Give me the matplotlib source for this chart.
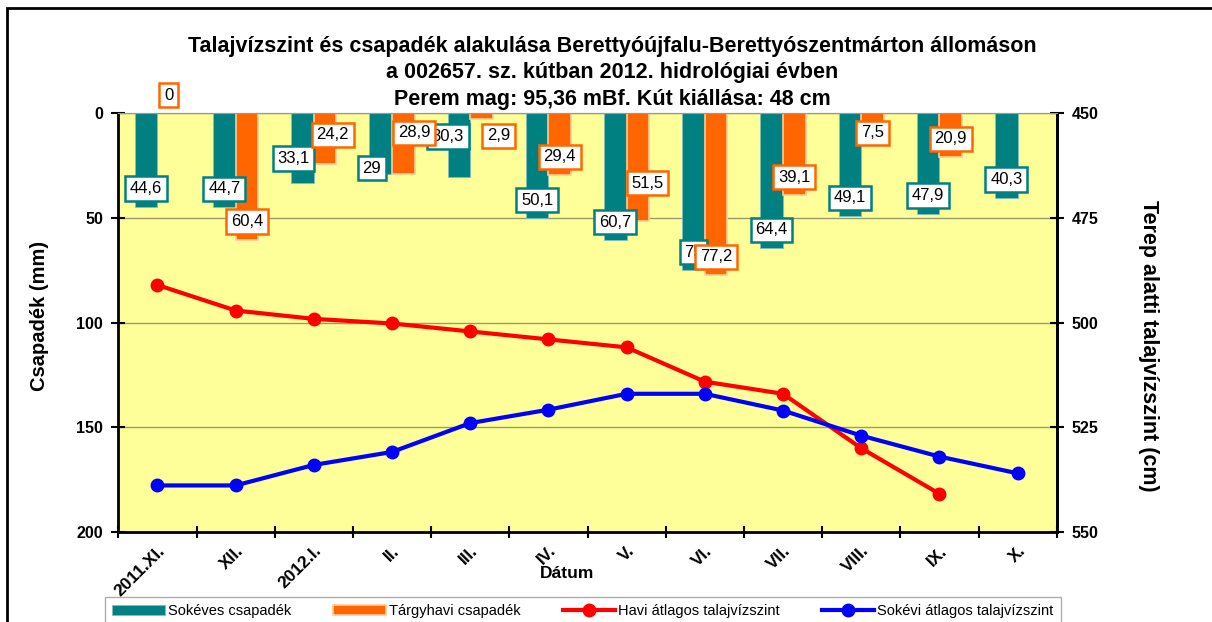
import numpy as np
import matplotlib
matplotlib.use('Agg')
import matplotlib.pyplot as plt
from matplotlib.patches import Rectangle

plt.rcParams['font.family'] = ['Liberation Sans', 'DejaVu Sans']

# data
months = ['2011.XI.', 'XII.', '2012.I.', 'II.', 'III.', 'IV.', 'V.', 'VI.', 'VII.', 'VIII.', 'IX.', 'X.']
sokeves = [44.6, 44.7, 33.1, 29, 30.3, 50.1, 60.7, 75, 64.4, 49.1, 47.9, 40.3]
targyhavi = [0, 60.4, 24.2, 28.9, 2.9, 29.4, 51.5, 77.2, 39.1, 7.5, 20.9, np.nan]
havi_szint = [491.0, 497.1, 499.1, 500.2, 502.1, 504.0, 505.9, 514.1, 517.0, 530.0, 540.9, np.nan]
sokevi_szint = [538.9, 538.9, 534.0, 530.9, 524.0, 520.8, 517.0, 517.0, 521.0, 527.0, 532.0, 536.0]

# label placement tweaks (index -> (dx in categories, label centre in mm))
teal_lab_fix = {2: (-0.115, 21.6), 3: (-0.115, 26.1), 4: (-0.14, 11.1)}
orange_lab_fix = {2: (0.096, 10.3), 3: (0.14, 9.3), 4: (0.22, 10.7), 6: (0.12, 33.3), 9: (0.0, 9.3)}

teal = '#008080'
orange = '#FF6600'

fig = plt.figure(figsize=(12.12, 6.22), dpi=100)
ax = fig.add_axes([118.3 / 1212, 1 - 531.9 / 622, 938.4 / 1212, 418.5 / 622])
ax.set_facecolor('#FFFF99')

x = np.arange(len(months))
w = 0.29
ax.bar(x - w / 2, sokeves, width=w, color=teal, edgecolor='#7fbfbf', linewidth=0.6,
       label='Sokéves csapadék', zorder=2)
ax.bar(x + w / 2, targyhavi, width=w, color=orange, edgecolor='#FFCC99', linewidth=1.2,
       label='Tárgyhavi csapadék', zorder=2)

ax.set_xlim(-0.5, len(months) - 0.5)
ax.set_ylim(200, 0)
ax.set_yticks([0, 50, 100, 150, 200])
ax.yaxis.grid(True, color='#9a9a6a', linewidth=1)
ax.set_axisbelow(True)
for lab in ax.get_yticklabels():
    lab.set_fontweight('bold')
ax.tick_params(axis='y', direction='inout', length=10, width=1.5, labelsize=11.5, pad=6)

ax.set_xticks(np.arange(-0.5, len(months)), minor=False)
ax.set_xticklabels([])
ax.tick_params(axis='x', which='major', direction='inout', length=9, width=1.5)
ax.set_xticks(x, minor=True)
ax.set_xticklabels(months, minor=True, rotation=45, ha='right', va='top',
                   rotation_mode='anchor', fontweight='bold', fontsize=12.5)
ax.tick_params(axis='x', which='minor', length=0, pad=8)

ax.spines['top'].set_color('#999999')
ax.spines['left'].set_linewidth(2)
ax.spines['bottom'].set_linewidth(2)
ax.spines['right'].set_linewidth(2)

# bar labels
def fmt(v):
    return f'{v:g}'.replace('.', ',')

for i, v in enumerate(sokeves):
    dx, ly = teal_lab_fix.get(i, (0, v - 8.7))
    ax.text(x[i] - w / 2 + dx, ly, fmt(v), ha='center', va='center', fontsize=12, zorder=5,
            bbox=dict(boxstyle='square,pad=0.28', fc='white', ec=teal, lw=1.8))
for i, v in enumerate(targyhavi):
    if np.isnan(v):
        continue
    dx, ly = orange_lab_fix.get(i, (0, v - 8.7))
    ax.text(x[i] + w / 2 + dx, ly, fmt(v), ha='center', va='center', fontsize=12, zorder=6,
            clip_on=False,
            bbox=dict(boxstyle='square,pad=0.28', fc='white', ec=orange, lw=1.8))

# water level lines on the right axis
ax2 = ax.twinx()
ax2.plot(x, havi_szint, color='#FF0000', lw=3, marker='o', ms=9, label='Havi átlagos talajvízszint')
ax2.plot(x, sokevi_szint, color='#0000FF', lw=3, marker='o', ms=9, label='Sokévi átlagos talajvízszint')
ax2.set_ylim(550, 450)
ax2.set_yticks([450, 475, 500, 525, 550])
for lab in ax2.get_yticklabels():
    lab.set_fontweight('bold')
ax2.tick_params(axis='y', direction='inout', length=10, width=1.5, labelsize=11.5, pad=6)
ax2.spines['right'].set_linewidth(2)
ax2.spines['top'].set_color('#999999')

# texts
fig.text(612 / 1212, 1 - 36 / 622,
         'Talajvízszint és csapadék alakulása Berettyóújfalu-Berettyószentmárton állomáson\n'
         'a 002657. sz. kútban 2012. hidrológiai évben\n'
         'Perem mag: 95,36 mBf. Kút kiállása: 48 cm',
         ha='center', va='top', fontsize=15.5, fontweight='bold', linespacing=1.34)
fig.text(40 / 1212, 1 - 316 / 622, 'Csapadék (mm)', rotation=90, ha='center', va='center',
         fontsize=14.5, fontweight='bold')
fig.text(1148 / 1212, 1 - 346 / 622, 'Terep alatti talajvízszint (cm)', rotation=-90,
         ha='center', va='center', fontsize=15.5, fontweight='bold')
fig.text(567 / 1212, 1 - 574 / 622, 'Dátum', ha='center', va='center', fontsize=12.5,
         fontweight='bold')

# legend
h1, l1 = ax.get_legend_handles_labels()
h2, l2 = ax2.get_legend_handles_labels()
leg = fig.legend(h1 + h2, l1 + l2, loc='upper left', bbox_to_anchor=(105 / 1212, 1 - 597 / 622),
                 ncol=4, fontsize=10.5, frameon=True, fancybox=False, edgecolor='#999999',
                 handlelength=3.6, handletextpad=0.2, columnspacing=2.9, numpoints=1,
                 borderpad=0.5, borderaxespad=0)
leg.get_frame().set_linewidth(1)

# outer frame
fig.add_artist(Rectangle((7 / 1212, -0.5), 2.0, 1.5 - 8 / 622, transform=fig.transFigure,
                         fill=False, ec='black', lw=2, clip_on=False))

fig.savefig('out.png', dpi=100)
